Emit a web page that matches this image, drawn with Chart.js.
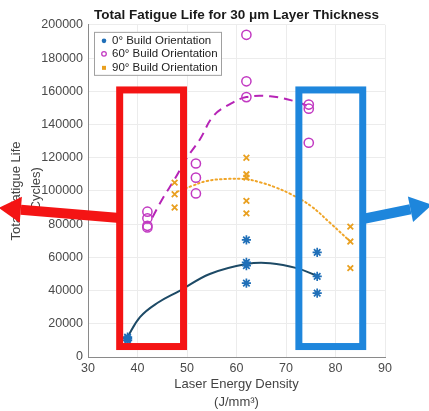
<!DOCTYPE html>
<html>
<head>
<meta charset="utf-8">
<script src="https://cdn.jsdelivr.net/npm/chart.js@4.4.0/dist/chart.umd.min.js"></script>
<style>
html, body { margin: 0; padding: 0; background: #fff; }
</style>
</head>
<body>
<canvas id="fatigueChart" width="429" height="411"></canvas>
<script>
const deg0X = [38, 38, 38, 62, 62, 62, 62, 76.3, 76.3, 76.3];
const deg0Y = [12000, 10000, 11000, 70500, 57000, 55000, 44500, 63000, 48500, 38500];

const deg60X = [42, 42, 42, 42, 51.8, 51.8, 51.8, 62, 62, 62, 74.6, 74.6, 74.6];
const deg60Y = [87500, 83500, 79000, 78000, 116500, 108000, 98500, 194000, 166000, 156500, 152000, 149500, 129000];

const deg90X = [47.5, 47.5, 47.5, 62, 62, 62, 62, 62, 83, 83, 83];
const deg90Y = [105000, 98000, 90000, 120000, 110000, 108000, 94000, 86500, 78500, 69500, 53500];

// fitted trend lines
const fit0X = [37.8, 40.5, 44, 48.6, 54.6, 62, 66.8, 72.2, 76.5];
const fit0Y = [11000, 24000, 32500, 40000, 50000, 56000, 56500, 53500, 48500];

const fit60X = [43, 45, 47.5, 50, 52.6, 55.3, 58.5, 62, 66.8, 71.8, 74.5];
const fit60Y = [84000, 95000, 107000, 120000, 131000, 145000, 152000, 156500, 157000, 154000, 151000];

const fit90X = [48, 51, 54, 58, 62, 65, 68, 71, 75, 79, 83];
const fit90Y = [99500, 103000, 106000, 107200, 107000, 105000, 102000, 98000, 91000, 80500, 69500];

const seriesNames = ['0\u00b0 Build Orientation', '60\u00b0 Build Orientation', '90\u00b0 Build Orientation'];

// highlight boxes and arrows drawn over the plot (data units)
const redBox = [36.4, 49.3, 6300, 160800];
const blueBox = [72.6, 85.5, 6300, 160800];
const redArrow = [36.4, 83700, 12.0, 89800];
const blueArrow = [85.5, 83100, 99.5, 91600];

const pts = (xs, ys) => xs.map((v, i) => ({ x: v, y: ys[i] }));

function drawArrow(ctx, x, y, a, color) {
  const x0 = x.getPixelForValue(a[0]), y0 = y.getPixelForValue(a[1]);
  const x1 = x.getPixelForValue(a[2]), y1 = y.getPixelForValue(a[3]);
  const ang = Math.atan2(y1 - y0, x1 - x0);
  const headLen = 22, headW = 13;
  const bx = x1 - Math.cos(ang) * headLen, by = y1 - Math.sin(ang) * headLen;
  ctx.save();
  ctx.strokeStyle = color;
  ctx.fillStyle = color;
  ctx.lineWidth = 10;
  ctx.beginPath();
  ctx.moveTo(x0, y0);
  ctx.lineTo(bx, by);
  ctx.stroke();
  ctx.beginPath();
  ctx.moveTo(x1, y1);
  ctx.lineTo(bx + Math.sin(ang) * headW, by - Math.cos(ang) * headW);
  ctx.lineTo(bx - Math.sin(ang) * headW, by + Math.cos(ang) * headW);
  ctx.closePath();
  ctx.fill();
  ctx.restore();
}

function drawBox(ctx, x, y, b, color) {
  const l = x.getPixelForValue(b[0]), r = x.getPixelForValue(b[1]);
  const t = y.getPixelForValue(b[3]), btm = y.getPixelForValue(b[2]);
  ctx.save();
  ctx.strokeStyle = color;
  ctx.lineWidth = 7;
  ctx.strokeRect(l, t, r - l, btm - t);
  ctx.restore();
}

const overlay = {
  id: 'overlay',
  afterDraw(chart) {
    const { ctx, chartArea, scales: { x, y } } = chart;

    // legend box, top left inside the axes
    const lx = chartArea.left + 6, ly = chartArea.top + 7;
    ctx.save();
    ctx.fillStyle = '#fff';
    ctx.fillRect(lx, ly, 127, 43);
    ctx.strokeStyle = '#a0a0a0';
    ctx.lineWidth = 1;
    ctx.strokeRect(lx + 0.5, ly + 0.5, 127, 43);
    ctx.font = "11.5px 'Liberation Sans', Arial, sans-serif";
    ctx.fillStyle = '#222';
    ctx.textBaseline = 'middle';
    const rows = [ly + 9, ly + 22, ly + 36];
    seriesNames.forEach((n, i) => ctx.fillText(n, lx + 18, rows[i]));
    ctx.fillStyle = '#1f6fb8';
    ctx.beginPath(); ctx.arc(lx + 10, rows[0], 2.3, 0, Math.PI * 2); ctx.fill();
    ctx.strokeStyle = '#c23ac2'; ctx.lineWidth = 1.3;
    ctx.beginPath(); ctx.arc(lx + 10, rows[1], 2.3, 0, Math.PI * 2); ctx.stroke();
    ctx.fillStyle = '#e9a020';
    ctx.fillRect(lx + 8, rows[2] - 2, 4, 4);
    ctx.restore();

    drawArrow(ctx, x, y, redArrow, '#f41414');
    drawArrow(ctx, x, y, blueArrow, '#1e86dc');
    drawBox(ctx, x, y, redBox, '#f41414');
    drawBox(ctx, x, y, blueBox, '#1e86dc');
  }
};

Chart.defaults.font.family = "'Liberation Sans', Arial, sans-serif";

new Chart(document.getElementById('fatigueChart'), {
  type: 'scatter',
  data: {
    datasets: [
      {
        label: seriesNames[0],
        data: pts(deg0X, deg0Y),
        pointStyle: 'star',
        pointRadius: 4.6,
        borderColor: '#1f6fb8',
        backgroundColor: '#1f6fb8',
        pointBorderWidth: 1.7
      },
      {
        label: seriesNames[1],
        data: pts(deg60X, deg60Y),
        pointStyle: 'circle',
        pointRadius: 4.6,
        borderColor: '#c23ac2',
        backgroundColor: 'rgba(0,0,0,0)',
        pointBorderWidth: 1.5
      },
      {
        label: seriesNames[2],
        data: pts(deg90X, deg90Y),
        pointStyle: 'crossRot',
        pointRadius: 4,
        borderColor: '#e9a020',
        backgroundColor: '#e9a020',
        pointBorderWidth: 1.8
      },
      {
        label: 'fit 0',
        data: pts(fit0X, fit0Y),
        showLine: true,
        pointRadius: 0,
        borderColor: '#1d4a66',
        borderWidth: 2,
        tension: 0.4
      },
      {
        label: 'fit 60',
        data: pts(fit60X, fit60Y),
        showLine: true,
        pointRadius: 0,
        borderColor: '#b624b6',
        borderWidth: 2,
        borderDash: [9, 6],
        tension: 0.4
      },
      {
        label: 'fit 90',
        data: pts(fit90X, fit90Y),
        showLine: true,
        pointRadius: 0,
        borderColor: '#f0a528',
        borderWidth: 2,
        borderDash: [1.5, 3],
        borderCapStyle: 'round',
        tension: 0.4
      }
    ]
  },
  options: {
    responsive: false,
    animation: false,
    layout: { padding: { left: 0, right: 44, top: 0, bottom: 0 } },
    plugins: {
      legend: { display: false },
      tooltip: { enabled: false },
      title: {
        display: true,
        text: 'Total Fatigue Life for 30 \u03bcm Layer Thickness',
        fullSize: false,
        color: '#1a1a1a',
        font: { size: 13.5, weight: 'bold', lineHeight: 1.1 },
        padding: { top: 8, bottom: 2 }
      }
    },
    scales: {
      x: {
        type: 'linear',
        min: 30,
        max: 90,
        afterFit: s => { s.height = 54; },
        ticks: { stepSize: 10, color: '#4a4a4a', font: { size: 12.5 }, padding: 4 },
        grid: { color: '#ececec', drawTicks: false },
        border: { display: true, color: '#8a8a8a', width: 1 },
        title: {
          display: true,
          text: ['Laser Energy Density', '(J/mm\u00b3)'],
          color: '#444',
          font: { size: 13, lineHeight: 1.35 },
          padding: { top: 0, bottom: 0 }
        }
      },
      y: {
        type: 'linear',
        min: 0,
        max: 200000,
        afterFit: s => { s.width = 88; },
        ticks: { stepSize: 20000, color: '#4a4a4a', font: { size: 12.5 }, padding: 5, callback: v => String(v) },
        grid: { color: '#ececec', drawTicks: false },
        border: { display: true, color: '#8a8a8a', width: 1 },
        title: {
          display: true,
          text: ['Total Fatigue Life', '(Cycles)'],
          color: '#444',
          font: { size: 13, lineHeight: 1.55 },
          padding: { top: 6, bottom: 0 }
        }
      }
    }
  },
  plugins: [overlay]
});
</script>
</body>
</html>
